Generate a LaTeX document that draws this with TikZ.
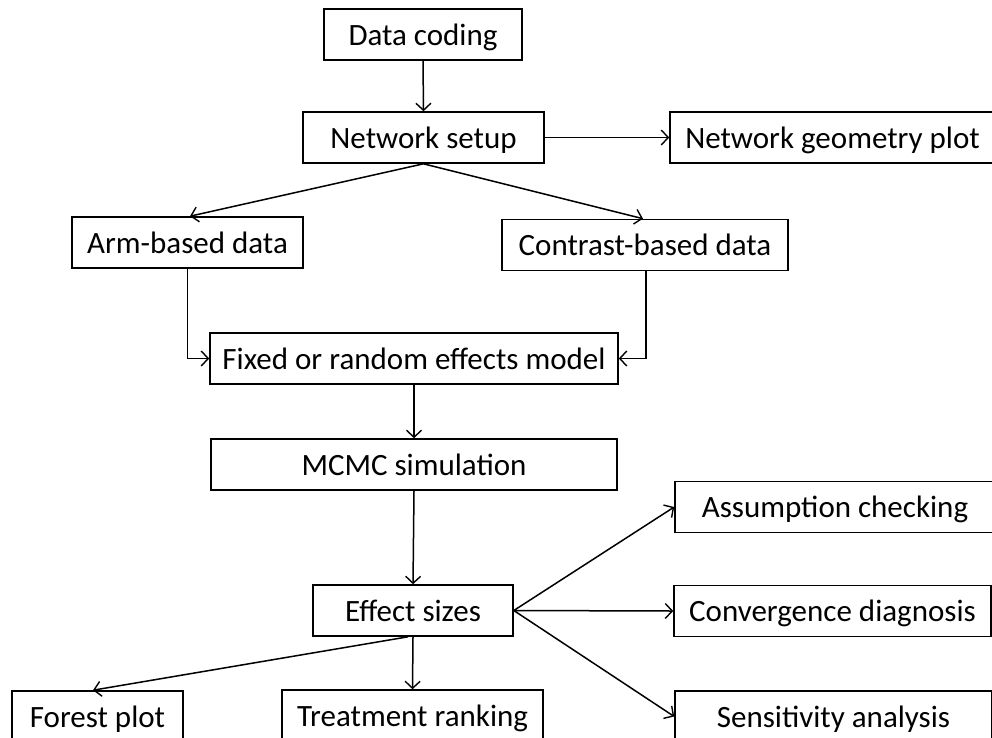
\documentclass[tikz,border=0pt]{standalone}
\usepackage{fontspec}
\setmainfont{Carlito}
\usetikzlibrary{arrows.meta}
\begin{document}
\begin{tikzpicture}[x=1pt,y=-1pt,
  box/.style={draw,line width=1.6pt,minimum height=51pt,inner sep=0pt,
    text height=22pt,text depth=1pt,
    font=\fontsize{31}{36}\selectfont},
  flow/.style={draw,line width=1.5pt,
    -{Straight Barb[length=7pt,width=15pt,line width=1.4pt]}}]
\useasboundingbox (0,0) rectangle (992,737);
\clip (0,0) rectangle (992,737);

% main column
\node[box,minimum width=198pt] (code) at (423,34.5) {Data coding};
\node[box,minimum width=241pt] (net)  at (423.5,137.5) {Network setup};
\node[box,minimum width=325pt] (geo)  at (832.5,137.5) {Network geometry plot};
\node[box,minimum width=231pt] (arm)  at (187.5,242.5) {Arm-based data};
\node[box,minimum width=286pt] (con)  at (645,245) {Contrast-based data};
\node[box,minimum width=408pt] (fix)  at (414,358.5) {Fixed or random effects model};
\node[box,minimum width=406pt] (mcmc) at (414,464.5) {MCMC simulation};
\node[box,minimum width=200pt] (eff)  at (413,610.5) {Effect sizes};

% outputs on the right
\node[box,minimum width=320pt] (ass)  at (835,507) {Assumption checking};
\node[box,minimum width=317pt] (conv) at (832.5,611) {Convergence diagnosis};
\node[box,minimum width=317pt] (sens) at (833.5,716.5) {Sensitivity analysis};

% outputs at the bottom
\node[box,minimum width=171pt] (forest) at (97.5,716.5) {Forest plot};
\node[box,minimum width=261pt] (treat)  at (412.5,715.5) {Treatment ranking};

% connectors
\draw[flow] (code.south) -- (net.north);
\draw[flow] (net.east) -- (geo.west);
\draw[flow] (net.south) -- ([xshift=2.5pt]arm.north);
\draw[flow] (net.south) -- ([xshift=-2pt]con.north);
\draw[flow] (arm.south) |- (fix.west);
\draw[flow] ([xshift=1pt]con.south) |- (fix.east);
\draw[flow] (fix.south) -- (mcmc.north);
\draw[flow] (mcmc.south) -- (eff.north);
\draw[flow] (eff.east) -- (ass.west);
\draw[flow] (eff.east) -- (conv.west);
\draw[flow] (eff.east) -- (sens.west);
\draw[flow] ([xshift=-5pt]eff.south) -- ([xshift=-4.5pt]forest.north);
\draw[flow] (eff.south) -- (treat.north);
\end{tikzpicture}
\end{document}
